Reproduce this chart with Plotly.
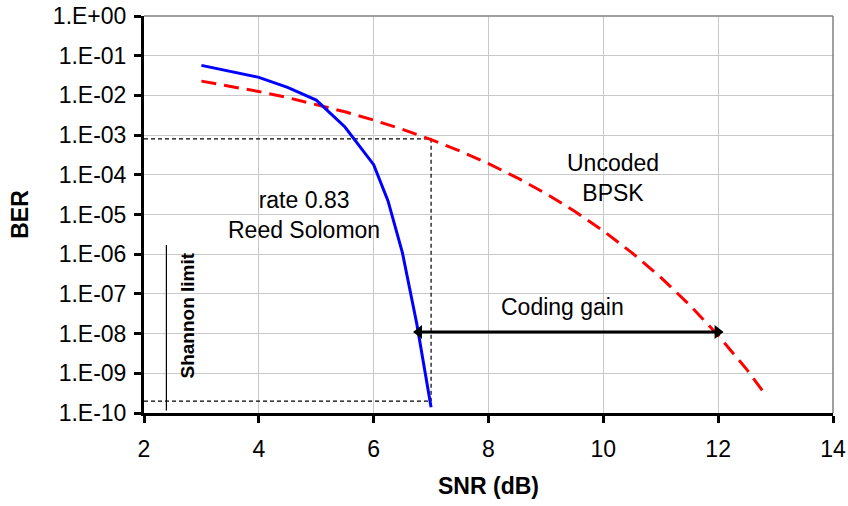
import plotly.graph_objects as go
import math

# Reed Solomon (rate 0.83) curve
rs_snr = [3.0, 3.5, 4.0, 4.5, 5.0, 5.5, 6.0, 6.25, 6.5, 6.75, 7.0]
rs_ber = [5.7e-2, 4.1e-2, 2.85e-2, 1.6e-2, 7.6e-3, 1.6e-3, 1.8e-4, 2.2e-5, 1.1e-6, 1.8e-8, 1.4e-10]

# Uncoded BPSK curve
bpsk_snr = [3.0, 3.5, 4.0, 4.5, 5.0, 5.5, 6.0, 6.5, 7.0, 7.5, 8.0, 8.5, 9.0, 9.5, 10.0, 10.5, 11.0, 11.5, 12.0, 12.5, 12.8]
bpsk_ber = [2.29e-2, 1.72e-2, 1.25e-2, 8.8e-3, 5.95e-3, 3.86e-3, 2.39e-3, 1.4e-3, 7.7e-4, 4.0e-4, 1.91e-4,
            8.4e-5, 3.36e-5, 1.21e-5, 3.87e-6, 1.08e-6, 2.61e-7, 5.3e-8, 9.0e-9, 1.24e-9, 3.2e-10]

# Guide lines
guide_top_x = [2, 7, 7]
guide_top_y = [8e-4, 8e-4, 2e-10]
guide_bot_x = [2, 7]
guide_bot_y = [2e-10, 2e-10]
shannon_x = [2.39, 2.39]
shannon_y = [1.7e-6, 1.15e-10]
gain_x = [6.79, 11.99]
gain_y = [1.1e-8, 1.1e-8]

ytick_vals = [1, 1e-1, 1e-2, 1e-3, 1e-4, 1e-5, 1e-6, 1e-7, 1e-8, 1e-9, 1e-10]
ytick_text = ["1.E+00", "1.E-01", "1.E-02", "1.E-03", "1.E-04", "1.E-05",
              "1.E-06", "1.E-07", "1.E-08", "1.E-09", "1.E-10"]
xtick_vals = [2, 4, 6, 8, 10, 12, 14]

FONT = "Liberation Sans, Arial, sans-serif"

fig = go.Figure()
fig.add_trace(go.Scatter(x=guide_top_x, y=guide_top_y, mode="lines",
                         line=dict(color="black", width=1.2, dash="4px,3px"), hoverinfo="skip"))
fig.add_trace(go.Scatter(x=guide_bot_x, y=guide_bot_y, mode="lines",
                         line=dict(color="black", width=1.2, dash="4px,3px"), hoverinfo="skip"))
fig.add_trace(go.Scatter(x=shannon_x, y=shannon_y, mode="lines",
                         line=dict(color="black", width=1.2), hoverinfo="skip"))
fig.add_trace(go.Scatter(x=bpsk_snr, y=bpsk_ber, mode="lines", name="Uncoded BPSK",
                         line=dict(color="#ff0000", width=3, dash="15px,8px")))
fig.add_trace(go.Scatter(x=rs_snr, y=rs_ber, mode="lines", name="Reed Solomon",
                         line=dict(color="#0000ff", width=3)))
fig.add_trace(go.Scatter(x=gain_x, y=gain_y, mode="lines+markers",
                         line=dict(color="black", width=3),
                         marker=dict(symbol=["triangle-left", "triangle-right"], size=12, color="black"),
                         hoverinfo="skip"))

def ann(x, y, text, **kw):
    fig.add_annotation(x=x, y=math.log10(y), text=text, showarrow=False,
                       font=dict(family=FONT, size=23, color="black"), **kw)

ann(4.78, 1.0e-5, "rate 0.83<br>Reed Solomon")
ann(10.16, 8.5e-5, "Uncoded<br>BPSK")
ann(9.29, 4.7e-8, "Coding gain")
fig.add_annotation(x=2.76, y=math.log10(2.8e-8), text="<b>Shannon limit</b>", showarrow=False,
                   textangle=-90, font=dict(family=FONT, size=19, color="black"))

# top/right grey frame
fig.add_shape(type="line", xref="paper", yref="paper", x0=0, x1=1, y0=1, y1=1,
              line=dict(color="#808080", width=1.5))
fig.add_shape(type="line", xref="paper", yref="paper", x0=1, x1=1, y0=0, y1=1,
              line=dict(color="#808080", width=1.5))

fig.update_layout(
    width=848, height=506,
    margin=dict(l=143.5, r=15, t=16, b=93, autoexpand=False),
    paper_bgcolor="white", plot_bgcolor="white",
    showlegend=False,
    font=dict(family=FONT, size=23, color="black"),
    xaxis=dict(range=[2, 14], tickvals=xtick_vals, showgrid=True, gridcolor="#c8c8c8", gridwidth=1,
               showline=True, linecolor="black", linewidth=3, ticks="outside", ticklen=7,
               tickwidth=3, tickcolor="black", zeroline=False, automargin=False,
               tickfont=dict(family=FONT, size=23), ticklabeloverflow="allow",
               ticklabelstandoff=6,
               title=dict(text="<b>SNR (dB)</b>", font=dict(family=FONT, size=23), standoff=18)),
    yaxis=dict(type="log", range=[-10, 0], tickvals=ytick_vals, ticktext=ytick_text,
               showgrid=True, gridcolor="#c8c8c8", gridwidth=1,
               showline=True, linecolor="black", linewidth=3, ticks="outside", ticklen=7,
               tickwidth=3, tickcolor="black", zeroline=False, automargin=False,
               tickfont=dict(family=FONT, size=23), ticklabeloverflow="allow",
               ticklabelstandoff=3,
               title=dict(text="<b>BER</b>", font=dict(family=FONT, size=23), standoff=18)),
)

fig.write_html("out.html", config={"displayModeBar": False},
               post_script="document.body.style.margin='0';document.body.style.overflow='hidden';")
